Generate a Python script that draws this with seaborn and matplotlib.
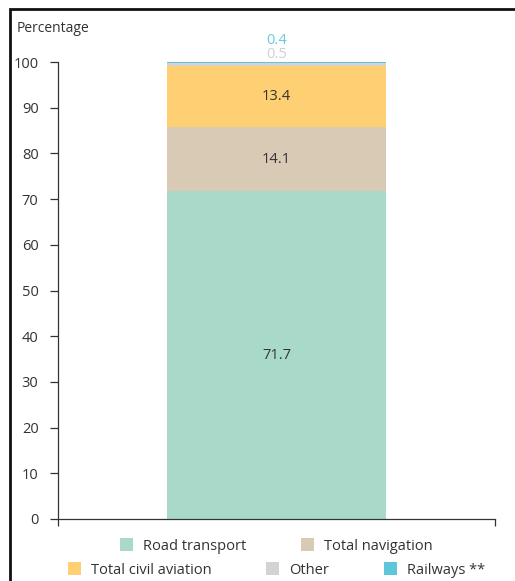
import matplotlib
matplotlib.use("Agg")
import matplotlib.pyplot as plt
from matplotlib.patches import Rectangle, Patch
import seaborn as sns
import pandas as pd
import numpy as np

categories = ["Road transport", "Total navigation", "Total civil aviation", "Other", "Railways **"]
values = [71.7, 14.1, 13.4, 0.5, 0.4]
colors = ["#a8d9c9", "#d9cab5", "#ffd073", "#d3d3d5", "#5ec6d9"]
label_colors = ["#333333", "#333333", "#333333", "#d0d0d4", "#6cc9dc"]
yticks = [0, 10, 20, 30, 40, 50, 60, 70, 80, 90, 100]

sns.set_style("white")
plt.rcParams['font.family'] = ['Open Sans', 'DejaVu Sans']

fig = plt.figure(figsize=(5.15, 5.81), dpi=100)
W, H = 515, 581
ax = fig.add_axes([58 / W, 1 - 519 / H, (495 - 58) / W, (519 - 62) / H])

cum = np.cumsum(values)
df = pd.DataFrame({"x": ["All"] * len(values), "top": cum, "cat": categories})
# draw tallest first, overlaying shorter ones (stacked effect)
for i in range(len(values) - 1, -1, -1):
    sns.barplot(data=df.iloc[[i]], x="x", y="top", color=colors[i], width=0.5,
                saturation=1, ax=ax, linewidth=0)

ax.set_ylim(0, 100)
ax.set_xlim(-0.5, 0.5)
ax.set_yticks(yticks)
ax.set_yticklabels([str(t) for t in yticks], fontsize=10.5, color="#333333")
ax.set_xticks([-0.5, 0.5])
ax.set_xticklabels(["", ""])
ax.set_xlabel("")
ax.set_ylabel("")
for s in ["top", "right"]:
    ax.spines[s].set_visible(False)
for s in ["left", "bottom"]:
    ax.spines[s].set_color("#333333")
    ax.spines[s].set_linewidth(0.9)
ax.tick_params(axis="y", direction="out", length=6, width=0.9, color="#333333", pad=8, left=True)
ax.tick_params(axis="x", direction="out", length=5, width=0.9, color="#333333", bottom=True)

# value labels
bottoms = cum - np.array(values)
for i in range(3):
    ax.text(0, bottoms[i] + values[i] / 2, f"{values[i]}", ha="center", va="center",
            fontsize=10.5, color=label_colors[i])
ax.text(0, 101.75, f"{values[3]}", ha="center", va="center", fontsize=10.5,
        color=label_colors[3], clip_on=False)
ax.text(0, 104.8, f"{values[4]}", ha="center", va="center", fontsize=10.5,
        color=label_colors[4], clip_on=False)

fig.text(17 / W, 1 - 29 / H, "Percentage", ha="left", va="center", fontsize=10, color="#333333")

# legends
handles = [Patch(facecolor=c, edgecolor="none") for c in colors]
common = dict(loc="center", frameon=False, fontsize=10.5, handlelength=0.9, handleheight=0.9,
              handletextpad=0.7, columnspacing=3.75, labelcolor="#333333")
leg1 = fig.legend(handles[:2], categories[:2], ncol=2,
                  bbox_to_anchor=(276.5 / W, 1 - 546 / H), **common)
leg2 = fig.legend(handles[2:], categories[2:], ncol=3,
                  bbox_to_anchor=(276.5 / W, 1 - 570 / H), **common)

# outer frame (extends beyond right and bottom)
fig.patches.append(Rectangle((10 / W, -0.1), 1.2, 1.1 - 9 / H, transform=fig.transFigure,
                             fill=False, edgecolor="#111111", linewidth=2.0, zorder=10))

fig.savefig("out.png", dpi=100)
